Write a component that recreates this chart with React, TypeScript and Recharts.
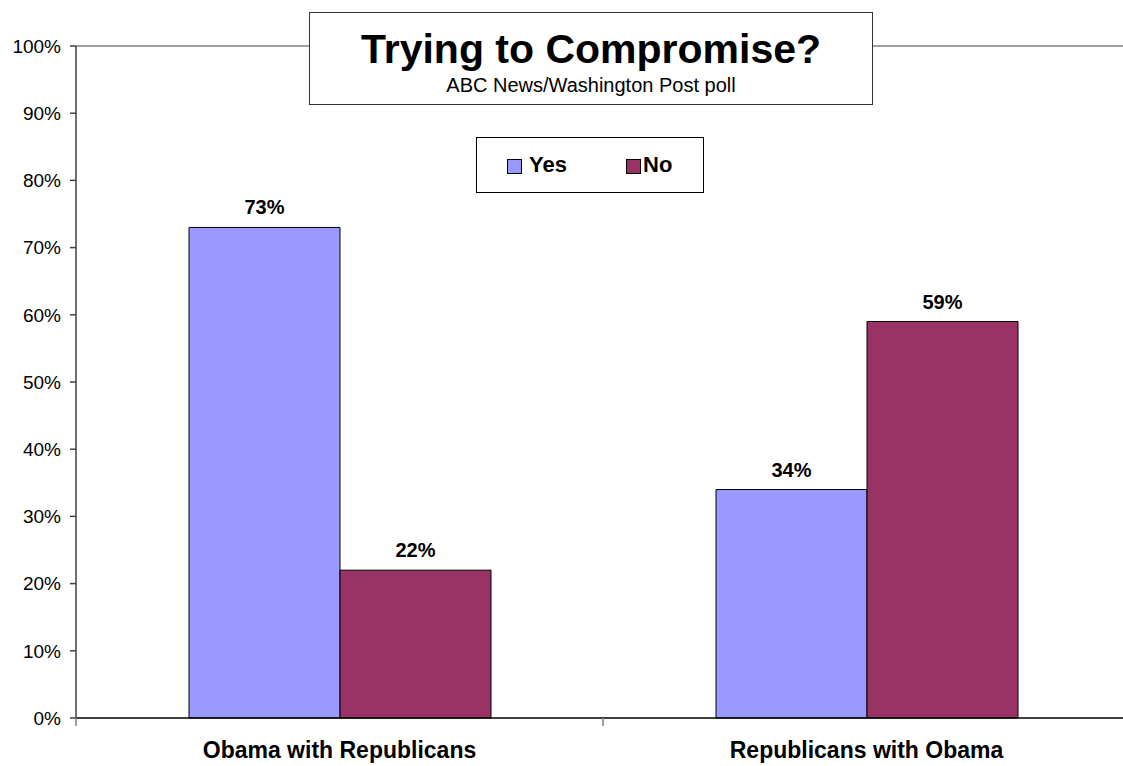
import React from 'react';
import { BarChart, Bar, XAxis, YAxis, ReferenceLine, LabelList } from 'recharts';

const categories = ['Obama with Republicans', 'Republicans with Obama'];
const yesValues = [73, 34];
const noValues = [22, 59];
const yTicks = [0, 10, 20, 30, 40, 50, 60, 70, 80, 90, 100];
const seriesNames = ['Yes', 'No'];
const seriesColors = ['#9999FF', '#993366'];
const title = 'Trying to Compromise?';
const subtitle = 'ABC News/Washington Post poll';

const data = categories.map((c, i) => ({ name: c, Yes: yesValues[i], No: noValues[i] }));

const FONT = '"Liberation Sans", Arial, sans-serif';
const CHART_W = 1140;
const CHART_H = 766;
const MARGIN = { top: 46, right: 10, left: 0, bottom: 8 };
const Y_W = 76;
const HALF_BAND = (CHART_W - MARGIN.right - MARGIN.left - Y_W) / categories.length / 2;

const XTick = (props: any) => {
  const { x, y, payload, index } = props;
  return (
    <g>
      <line x1={x + HALF_BAND} x2={x + HALF_BAND} y1={y - 8} y2={y} stroke="#808080" strokeWidth={1.5} />
      {index === 0 && (
        <line x1={x - HALF_BAND} x2={x - HALF_BAND} y1={y - 8} y2={y} stroke="#808080" strokeWidth={1.5} />
      )}
      <text x={x} y={y + 32} textAnchor="middle" fontFamily={FONT} fontWeight="bold" fontSize={23} fill="#000">
        {payload.value}
      </text>
    </g>
  );
};

const legendItemLeft = [30, 149];

const LegendBox = () => (
  <div
    style={{
      position: 'absolute',
      left: 476,
      top: 137,
      width: 228,
      height: 56,
      border: '1px solid #000',
      background: '#fff',
      boxSizing: 'border-box',
      fontFamily: FONT,
      fontWeight: 'bold',
      fontSize: 22,
    }}
  >
    {seriesNames.map((n, i) => (
      <div key={n} style={{ position: 'absolute', left: legendItemLeft[i], top: 0, height: 54 }}>
        <span
          style={{
            position: 'absolute',
            left: 0,
            top: 21,
            width: 13,
            height: 13,
            background: seriesColors[i],
            border: '1px solid #000',
          }}
        />
        <span style={{ position: 'absolute', left: i === 0 ? 22 : 17, top: 16, lineHeight: '22px', whiteSpace: 'nowrap' }}>
          {n}
        </span>
      </div>
    ))}
  </div>
);

export default function App() {
  return (
    <div style={{ position: 'absolute', left: 0, top: 0, width: 1123, height: 766, overflow: 'hidden', background: '#fff' }}>
      <BarChart
        width={CHART_W}
        height={CHART_H}
        data={data}
        margin={MARGIN}
        barCategoryGap={113}
        barGap={0}
      >
        <ReferenceLine y={100} stroke="#808080" strokeWidth={1.5} />
        <XAxis
          dataKey="name"
          height={40}
          axisLine={{ stroke: '#000', strokeWidth: 1.5 }}
          tickLine={false}
          tick={<XTick />}
          interval={0}
        />
        <YAxis
          width={Y_W}
          domain={[0, 100]}
          ticks={yTicks}
          tickFormatter={(v: number) => `${v}%`}
          axisLine={{ stroke: '#404040', strokeWidth: 1.5 }}
          tickLine={{ stroke: '#404040', strokeWidth: 1.5 }}
          tickSize={6}
          tickMargin={9}
          tick={{ fontFamily: FONT, fontSize: 19, fill: '#000' }}
        />
        {seriesNames.map((n, i) => (
          <Bar key={n} dataKey={n} fill={seriesColors[i]} stroke="#000" strokeWidth={1} isAnimationActive={false}>
            <LabelList
              dataKey={n}
              position="top"
              offset={13}
              formatter={(v: any) => `${v}%`}
              style={{ fontFamily: FONT, fontWeight: 'bold', fontSize: 20, fill: '#000' }}
            />
          </Bar>
        ))}
      </BarChart>
      <div
        style={{
          position: 'absolute',
          left: 309,
          top: 12,
          width: 564,
          height: 93,
          boxSizing: 'border-box',
          border: '1px solid #333',
          background: '#fff',
          textAlign: 'center',
          fontFamily: FONT,
        }}
      >
        <div style={{ position: 'absolute', left: 0, right: 0, top: 16, fontSize: 41, fontWeight: 'bold', lineHeight: '41px' }}>
          {title}
        </div>
        <div style={{ position: 'absolute', left: 0, right: 0, top: 62, fontSize: 20, lineHeight: '20px' }}>{subtitle}</div>
      </div>
      <LegendBox />
    </div>
  );
}
